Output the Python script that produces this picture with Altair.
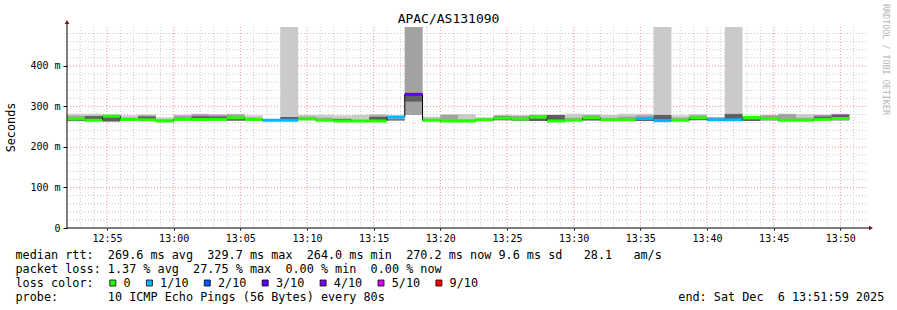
import altair as alt
import pandas as pd

# ---------------- data ----------------
START = pd.Timestamp("2025-12-06T12:52:00")
STEP_S = 80  # one probe round every 80 s

median_ms = [269, 266, 276, 268, 267, 264, 268, 268, 268, 272, 268, 266, 266, 269, 266,
             264, 264, 264, 274, 329.7, 266, 264, 264, 267, 271, 269, 274, 264, 266, 272,
             267, 267, 270, 265, 266, 272, 267, 267, 273, 270, 266, 266, 268, 270.2]
loss_bucket = [0, 0, 0, 0, 0, 0, 0, 0, 0, 0, 0, 1, 1, 0, 0,
               0, 0, 0, 1, 3, 0, 0, 0, 0, 0, 0, 0, 0, 0, 0,
               0, 0, 1, 1, 0, 0, 1, 1, 0, 0, 0, 0, 0, 0]
outer_lo = [263, 263, 263, 264, 265, 262, 265, 265, 265, 264, 265, 265, 264, 266, 264,
            262, 262, 262, 264, 279, 263, 262, 262, 265, 266, 265, 264, 262, 264, 264,
            265, 265, 264, 264, 264, 266, 265, 265, 264, 265, 264, 264, 265, 265]
outer_hi = [282, 282, 280, 278, 280, 273, 280, 282, 281, 282, 278, 268, 600, 279, 279,
            278, 279, 281, 277, 600, 275, 281, 281, 273, 279, 278, 280, 279, 282, 280,
            279, 282, 282, 600, 278, 281, 274, 600, 276, 279, 282, 281, 280, 282]
mid_lo = [265, 265, 263, 265, 266, 263, 266, 266, 266, 266, 266, 265, 265, 267, 265,
          263, 263, 263, 265, 279, 264, 263, 263, 266, 266, 266, 265, 263, 265, 265,
          266, 266, 265, 264, 265, 267, 265, 265, 265, 266, 265, 265, 266, 266]
mid_hi = [277, 277, 278, 272, 278, 268, 277, 281, 279, 280, 272, 267, 274, 275, 272,
          270, 266, 278, 271, 600, 270, 279, 268, 270, 277, 277, 279, 279, 272, 279,
          272, 275, 278, 279, 272, 278, 273, 282, 274, 278, 281, 272, 279, 280]
inner_lo = [264, 269, 263, 264, 268, 262, 266, 269, 269, 265, 265, 265, 268, 267, 264,
            264, 263, 265, 266, 312, 264, 262, 263, 265, 266, 265, 264, 264, 264, 266,
            265, 265, 264, 267, 264, 266, 265, 269, 264, 266, 264, 264, 267, 266]
inner_hi = [268, 276, 273, 266, 275, 265, 270, 276, 275, 269, 268, 266, 274, 270, 267,
            269, 265, 274, 268, 330, 267, 265, 265, 268, 275, 268, 270, 279, 267, 270,
            268, 268, 268, 279, 267, 270, 268, 281, 268, 269, 268, 267, 275, 280]

loss_labels = ["0", "1/10", "2/10", "3/10", "4/10", "5/10", "9/10"]
loss_colors = ["#26ff00", "#00b8ff", "#0059ff", "#5e00ff", "#7e00ff", "#dd00ff", "#ff0000"]

title_text = "APAC/AS131090"
y_title = "Seconds"
y_ticks = [0, 100, 200, 300, 400]
stats_lines = [
    "median rtt:  269.6 ms avg  329.7 ms max  264.0 ms min  270.2 ms now 9.6 ms sd   28.1   am/s",
    "packet loss: 1.37 % avg  27.75 % max  0.00 % min  0.00 % now",
    "loss color:",
    "probe:       10 ICMP Echo Pings (56 Bytes) every 80s",
]
end_text = "end: Sat Dec  6 13:51:59 2025"
credit_text = "RRDTOOL / TOBI OETIKER"

# ---------------- layout / style ----------------
W, H = 800, 201
PAD_L, PAD_T = 67, 27
Y_MAX = 496
MONO = "DejaVu Sans Mono"
NB = "\u00a0"


def iso(ts):
    return ts.strftime("%Y-%m-%dT%H:%M:%SZ")


def dt(h, m):
    return alt.DateTime(year=2025, month=12, date=6, hours=h, minutes=m, utc=True)


n = len(median_ms)
starts = [START + pd.Timedelta(seconds=STEP_S * k) for k in range(n)]
ends = [s + pd.Timedelta(seconds=STEP_S) for s in starts]
band = 3.7  # half height of the coloured median band (ms)

bars = pd.DataFrame({
    "start": [iso(s) for s in starts],
    "end": [iso(e) for e in ends],
    "median": median_ms,
    "loss": [loss_labels[b] for b in loss_bucket],
    "outer_lo": outer_lo, "outer_hi": outer_hi,
    "mid_lo": mid_lo, "mid_hi": mid_hi,
    "inner_lo": inner_lo, "inner_hi": inner_hi,
    "med_lo": [m - band for m in median_ms],
    "med_hi": [m + band for m in median_ms],
})

step_df = pd.DataFrame({
    "t": [iso(s) for s in starts] + [iso(ends[-1])],
    "median": median_ms + [median_ms[-1]],
})

xscale = alt.Scale(type="utc", domain=[dt(12, 52), dt(13, 52)])
yscale = alt.Scale(domain=[0, Y_MAX], nice=False, zero=True)

x_major = [dt(12 + (55 + 5 * i) // 60, (55 + 5 * i) % 60) for i in range(12)]
xaxis = alt.Axis(values=x_major, labelExpr="utcFormat(datum.value, '%H:%M')", title=None,
                 grid=False, domain=False, ticks=True, tickSize=2, tickColor="#000",
                 labelFont=MONO, labelFontSize=10, labelColor="#000", labelPadding=3,
                 labelFlush=False, labelOverlap=False)
yaxis = alt.Axis(values=y_ticks, title=None, grid=False, domain=False, ticks=True,
                 tickSize=4, tickColor="#000", labelFont=MONO, labelFontSize=10,
                 labelColor="#000", labelPadding=3,
                 labelExpr="datum.value == 0 ? '0" + NB + NB + "' : datum.value + '" + NB + "m'")

X = lambda f: alt.X(f, type="temporal", scale=xscale, axis=xaxis)
Y = lambda f: alt.Y(f, type="quantitative", scale=yscale, axis=yaxis)

base = alt.Chart(bars)


def smoke(lo, hi, color):
    return base.mark_rect(color=color, clip=True).encode(
        x=X("start"), x2="end", y=Y(lo), y2=hi)


outer = smoke("outer_lo", "outer_hi", "#cacaca")
mid = smoke("mid_lo", "mid_hi", "#a2a2a2")
inner = smoke("inner_lo", "inner_hi", "#5e5e5e")

step_line = alt.Chart(step_df).mark_line(interpolate="step-after", color="#000",
                                         strokeWidth=1, clip=True).encode(
    x=X("t"), y=Y("median"))

med_band = base.mark_rect(clip=True).encode(
    x=X("start"), x2="end", y=Y("med_lo"), y2="med_hi",
    color=alt.Color("loss:N", scale=alt.Scale(domain=loss_labels, range=loss_colors),
                    legend=None))

# dotted grid, drawn beneath the data
minute_times = [START + pd.Timedelta(minutes=m) for m in range(1, 60)]
minor_x = pd.DataFrame({"t": [iso(t) for t in minute_times if t.minute % 5 != 0]})
major_x = pd.DataFrame({"t": [iso(t) for t in minute_times if t.minute % 5 == 0]})
minor_y = pd.DataFrame({"v": [v for v in range(20, Y_MAX, 20) if v % 100 != 0]})
major_y = pd.DataFrame({"v": [v for v in range(100, Y_MAX, 100)]})

GRID_MINOR = "#c8c8c8"
GRID_MAJOR = "#ff8c8c"


def vgrid(df, color):
    return alt.Chart(df).mark_rule(color=color, strokeDash=[1, 2], strokeWidth=1).encode(
        x=X("t"), y=alt.value(0), y2=alt.value(H))


def hgrid(df, color):
    return alt.Chart(df).mark_rule(color=color, strokeDash=[1, 2], strokeWidth=1).encode(
        y=Y("v"), x=alt.value(0), x2=alt.value(W + 1))


grids = [vgrid(minor_x, GRID_MINOR), hgrid(minor_y, GRID_MINOR),
         vgrid(major_x, GRID_MAJOR), hgrid(major_y, GRID_MAJOR)]

# axis lines with arrows
y_axis_line = alt.Chart(pd.DataFrame({"a": [0]})).mark_rule(color="#000").encode(
    x=alt.value(0), y=alt.value(-4), y2=alt.value(H))
x_axis_line = alt.Chart(pd.DataFrame({"a": [0]})).mark_rule(color="#000").encode(
    x=alt.value(0), x2=alt.value(W + 4), y=alt.value(H), y2=alt.value(H))
arrows = alt.Chart(pd.DataFrame({
    "px": [0, W + 4], "py": [-5, H], "shape": ["triangle-up", "triangle-right"]
})).mark_point(filled=True, color="#7f1010", size=22, opacity=1).encode(
    x=alt.X("px:Q", scale=None), y=alt.Y("py:Q", scale=None),
    shape=alt.Shape("shape:N", scale=None))

# texts
title = alt.Chart(pd.DataFrame({"txt": [title_text]})).mark_text(
    font=MONO, fontSize=13, color="#000", align="center", baseline="middle").encode(
    x=alt.value(897 / 2 - PAD_L), y=alt.value(19 - PAD_T), text="txt:N")

ytitle = alt.Chart(pd.DataFrame({"txt": [y_title]})).mark_text(
    font=MONO, fontSize=11.8, color="#000", align="center", baseline="middle",
    angle=270).encode(x=alt.value(11 - PAD_L), y=alt.value(127.5 - PAD_T), text="txt:N")

credit = alt.Chart(pd.DataFrame({"txt": [credit_text.replace(" ", NB)]})).mark_text(
    font=MONO, fontSize=8.4, color="#b4b4b4", align="center", baseline="middle",
    angle=90).encode(x=alt.value(885.5 - PAD_L), y=alt.value(59.5 - PAD_T), text="txt:N")

line_y = [255.3, 268.8, 283.0, 297.0]
stats_df = pd.DataFrame({
    "txt": [s.replace(" ", NB) for s in stats_lines] + [end_text.replace(" ", NB)],
    "px": [15.5 - PAD_L] * 4 + [678.3 - PAD_L],
    "py": [y - PAD_T for y in line_y] + [line_y[3] - PAD_T],
})
stats = alt.Chart(stats_df).mark_text(
    font=MONO, fontSize=11.8, color="#000", align="left", baseline="middle").encode(
    x=alt.X("px:Q", scale=None), y=alt.Y("py:Q", scale=None), text="txt:N")

# loss-colour legend: square then label, laid out on the monospace grid
CHAR_W = 7.1
sq_x, lab_x = [], []
cur = 109.5
for lab in loss_labels:
    sq_x.append(cur + 3.3)
    lab_x.append(cur + 14)
    cur = cur + 14 + len(lab) * CHAR_W + 15.5
leg_df = pd.DataFrame({
    "px": [x - PAD_L for x in sq_x],
    "lx": [x - PAD_L for x in lab_x],
    "py": [line_y[2] - PAD_T] * len(loss_labels),
    "col": loss_colors,
    "lab": loss_labels,
})
leg_sq = alt.Chart(leg_df).mark_square(filled=True, size=36, stroke="#000",
                                       strokeWidth=0.8, opacity=1).encode(
    x=alt.X("px:Q", scale=None), y=alt.Y("py:Q", scale=None),
    fill=alt.Fill("col:N", scale=None))
leg_txt = alt.Chart(leg_df).mark_text(
    font=MONO, fontSize=11.8, color="#000", align="left", baseline="middle").encode(
    x=alt.X("lx:Q", scale=None), y=alt.Y("py:Q", scale=None), text="lab:N")

chart = alt.layer(
    *grids, outer, mid, inner, step_line, med_band,
    y_axis_line, x_axis_line, arrows, title, ytitle, credit, stats, leg_sq, leg_txt
).properties(
    width=W, height=H,
    autosize=alt.AutoSizeParams(type="none"),
    padding={"left": PAD_L, "top": PAD_T, "right": 897 - PAD_L - W, "bottom": 310 - PAD_T - H},
    background="white",
).configure_view(stroke=None)

chart.save("out.html", embed_options={"renderer": "svg", "actions": False})
